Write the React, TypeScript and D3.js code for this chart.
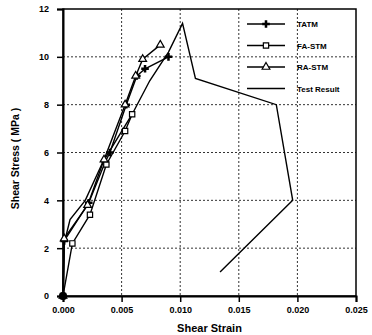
import React, { useEffect, useRef } from 'react';
import * as d3 from 'd3';

// strain, stress (MPa)
const tatm: [number, number][] = [
  [0, 0], [0.0001, 2.3], [0.0022, 3.9], [0.0036, 5.6], [0.004, 6.0],
  [0.0054, 8.0], [0.0063, 9.2], [0.007, 9.5], [0.009, 10.0],
];
const faStm: [number, number][] = [
  [0, 0], [0.0008, 2.2], [0.0023, 3.4], [0.0037, 5.5], [0.0053, 6.9], [0.0059, 7.6],
];
const raStm: [number, number][] = [
  [0, 0], [0.0001, 2.4], [0.0021, 3.8], [0.0035, 5.7], [0.0053, 8.0],
  [0.0062, 9.2], [0.0068, 9.9], [0.0083, 10.5],
];
const testResult: [number, number][] = [
  [0, 0], [0.0001, 2.2], [0.0006, 3.2], [0.0019, 4.0], [0.0034, 5.6], [0.0059, 7.6],
  [0.0074, 9.0], [0.009, 10.2], [0.0102, 11.4], [0.0113, 9.1], [0.0182, 8.0],
  [0.0196, 4.0], [0.0134, 1.0],
];
const xTicks = [0, 0.005, 0.01, 0.015, 0.02, 0.025];
const xTickLabels = ['0.000', '0.005', '0.010', '0.015', '0.020', '0.025'];
const yTicks = [0, 2, 4, 6, 8, 10, 12];
const legendLabels = ['TATM', 'FA-STM', 'RA-STM', 'Test Result'];

const App = () => {
  const svgRef = useRef<SVGSVGElement>(null);

  useEffect(() => {
    const width = 372;
    const height = 335;
    const margin = { top: 9, right: 16, bottom: 39, left: 63 };
    const innerW = width - margin.left - margin.right;
    const innerH = height - margin.top - margin.bottom;
    const font = "'Liberation Sans', Arial, sans-serif";

    const svg = d3.select(svgRef.current);
    svg.selectAll('*').remove();
    svg.attr('width', width).attr('height', height)
      .style('position', 'absolute').style('left', '0px').style('top', '0px')
      .style('background', '#fff');

    const x = d3.scaleLinear().domain([0, 0.025]).range([0, innerW]);
    const y = d3.scaleLinear().domain([0, 12]).range([innerH, 0]);

    svg.append('defs').append('clipPath').attr('id', 'plotclip')
      .append('rect').attr('width', innerW).attr('height', innerH);

    const g = svg.append('g').attr('transform', `translate(${margin.left},${margin.top})`);

    // grid
    g.append('g').selectAll('line').data(xTicks.slice(1, -1)).enter().append('line')
      .attr('x1', d => x(d)).attr('x2', d => x(d)).attr('y1', 0).attr('y2', innerH)
      .attr('stroke', '#333').attr('stroke-width', 1).attr('stroke-dasharray', '2,2');
    g.append('g').selectAll('line').data(yTicks.slice(1, -1)).enter().append('line')
      .attr('y1', d => y(d)).attr('y2', d => y(d)).attr('x1', 0).attr('x2', innerW)
      .attr('stroke', '#333').attr('stroke-width', 1).attr('stroke-dasharray', '2,2');

    // frame
    g.append('rect').attr('width', innerW).attr('height', innerH)
      .attr('fill', 'none').attr('stroke', '#000').attr('stroke-width', 1.5);

    // axes
    const xAxis = g.append('g').attr('transform', `translate(0,${innerH})`)
      .call(d3.axisBottom(x).tickValues(xTicks).tickFormat((d, i) => xTickLabels[i]).tickSize(6).tickPadding(5));
    const yAxis = g.append('g')
      .call(d3.axisLeft(y).tickValues(yTicks).tickFormat(d3.format('d')).tickSize(6).tickPadding(8));
    [xAxis, yAxis].forEach(a => {
      a.select('.domain').attr('stroke-width', 2);
      a.selectAll('.tick line').attr('stroke-width', 1.5);
      a.selectAll('text').style('font-family', font).style('font-size', '9px').style('font-weight', 'bold');
    });

    // axis titles
    svg.append('text')
      .attr('x', margin.left + x(0.0125)).attr('y', height - 3)
      .attr('text-anchor', 'middle')
      .style('font-family', font).style('font-size', '11px').style('font-weight', 'bold')
      .text('Shear Strain');
    svg.append('text')
      .attr('transform', `translate(19,${margin.top + innerH / 2 + 6}) rotate(-90)`)
      .attr('text-anchor', 'middle')
      .style('font-family', font).style('font-size', '10.5px').style('font-weight', 'bold')
      .text('Shear Stress ( MPa )');

    const line = d3.line<[number, number]>().x(d => x(d[0])).y(d => y(d[1]));
    const plot = g.append('g');

    const series = [
      { data: tatm, marker: 'cross' },
      { data: faStm, marker: 'square' },
      { data: raStm, marker: 'triangle' },
      { data: testResult, marker: 'none' },
    ];

    const drawMarker = (sel: any, type: string, cx: number, cy: number) => {
      if (type === 'cross') {
        sel.append('path')
          .attr('d', d3.symbol().type(d3.symbolCross).size(32)())
          .attr('transform', `translate(${cx},${cy})`)
          .attr('fill', '#000');
      } else if (type === 'square') {
        sel.append('path')
          .attr('d', d3.symbol().type(d3.symbolSquare).size(28)())
          .attr('transform', `translate(${cx},${cy})`)
          .attr('fill', '#fff').attr('stroke', '#000').attr('stroke-width', 1.2);
      } else if (type === 'triangle') {
        sel.append('path')
          .attr('d', d3.symbol().type(d3.symbolTriangle).size(26)())
          .attr('transform', `translate(${cx},${cy})`)
          .attr('fill', '#fff').attr('stroke', '#000').attr('stroke-width', 1.2);
      }
    };

    series.forEach(s => {
      plot.append('path').datum(s.data).attr('d', line)
        .attr('fill', 'none').attr('stroke', '#000').attr('stroke-width', 1.4);
    });
    series.forEach(s => {
      s.data.forEach(p => drawMarker(plot, s.marker, x(p[0]), y(p[1])));
    });
    plot.append('circle').attr('cx', x(0)).attr('cy', y(0)).attr('r', 4).attr('fill', '#000');

    // legend
    const legend = g.append('g').attr('clip-path', 'url(#plotclip)');
    legendLabels.forEach((lab, i) => {
      const ly = 15 + i * 21.5;
      legend.append('line').attr('x1', 184).attr('x2', 222).attr('y1', ly).attr('y2', ly)
        .attr('stroke', '#000').attr('stroke-width', 1.4);
      drawMarker(legend, series[i].marker, 203, ly);
      legend.append('text').attr('x', 234).attr('y', ly + 3)
        .style('font-family', font).style('font-size', '8px').style('font-weight', 'bold')
        .text(lab);
    });
  }, []);

  return (
    <div>
      <svg ref={svgRef}></svg>
    </div>
  );
};

export default App;
